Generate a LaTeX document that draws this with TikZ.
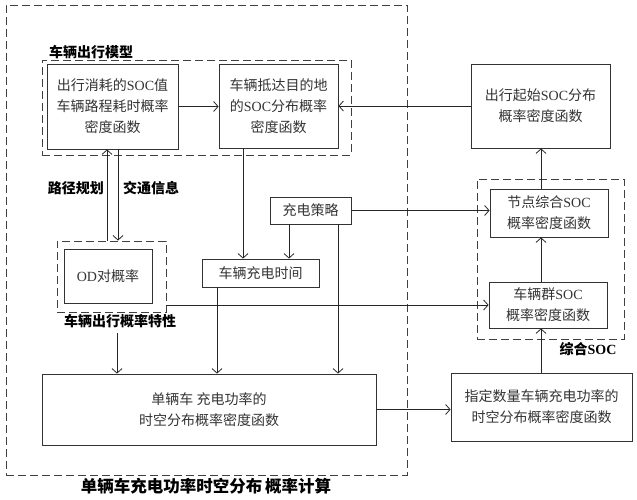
\documentclass[tikz,border=0pt]{standalone}
\usepackage{fontspec}
\usetikzlibrary{arrows.meta}
\newfontfamily\cjk{Noto Sans CJK SC}
\newfontfamily\lat{Liberation Serif}
\newcommand\en[1]{{\lat #1}}
\tikzset{
  blk/.style={draw=black!80, line width=0.8pt, align=center, inner sep=0pt,
    text=black!80, font=\fontsize{14}{21}\selectfont\cjk},
  grp/.style={draw=black!75, line width=0.9pt, dash pattern=on 8pt off 4pt, inner sep=0pt},
  lbl/.style={inner sep=0pt, font=\fontsize{14}{16}\selectfont\cjk\bfseries},
  arr/.style={-{Straight Barb[length=4.5pt,width=10pt]}, line width=0.8pt, draw=black!85},
  ln/.style={line width=0.8pt, draw=black!85}
}
\begin{document}
\begin{tikzpicture}[x=1pt,y=-1pt]
\useasboundingbox (0,0) rectangle (637,500);

% dashed groups
\node[grp, minimum width=401, minimum height=470] (outer) at (206.5,240) {};
\node[grp, minimum width=309, minimum height=95] (model) at (196.5,107.5) {};
\node[grp, minimum width=109, minimum height=71] (odgrp) at (111.5,276.5) {};
\node[grp, minimum width=147, minimum height=160] (socgrp) at (550.5,259) {};

% boxes
\node[blk, minimum width=131, minimum height=85] (A) at (112.5,106.5)
  {出行消耗的\en{SOC}值\\车辆路程耗时概率\\密度函数};
\node[blk, minimum width=119, minimum height=84] (B) at (278.5,106)
  {车辆抵达目的地\\的\en{SOC}分布概率\\密度函数};
\node[blk, minimum width=139, minimum height=84] (start) at (540.5,106)
  {出行起始\en{SOC}分布\\概率密度函数};
\node[blk, minimum width=118, minimum height=48] (nodesoc) at (549,213)
  {节点综合\en{SOC}\\概率密度函数};
\node[blk, minimum width=118, minimum height=46] (group) at (548,305)
  {车辆群\en{SOC}\\概率密度函数};
\node[blk, minimum width=181, minimum height=68] (spec) at (541.5,407)
  {指定数量车辆充电功率的\\时空分布概率密度函数};
\node[blk, minimum width=334, minimum height=71] (big) at (209,409.5)
  {单辆车 充电功率的\\时空分布概率密度函数};
\node[blk, minimum width=81, minimum height=27] (strategy) at (310.5,210.5) {充电策略};
\node[blk, minimum width=117, minimum height=28] (chtime) at (260.5,273) {车辆充电时间};
\node[blk, minimum width=88, minimum height=54] (od) at (108,276) {\en{OD}对概率};

% labels
\node[lbl, anchor=west] (modellbl) at (49,52) {车辆出行模型};
\node[lbl, anchor=east] (route) at (104,188) {路径规划};
\node[lbl, anchor=west] (traffic) at (123,188) {交通信息};
\node[lbl] (odlbl) at (120,321) {车辆出行概率特性};
\node[lbl] (soclbl) at (588,349) {综合\en{\bfseries SOC}};
\node[lbl, font=\fontsize{16.5}{18}\selectfont\cjk\bfseries] (title) at (206,486)
  {单辆车充电功率时空分布\,概率计算};

% x positions of vertical connectors
\coordinate (xl) at (107,0);
\coordinate (xr) at (118,0);
\coordinate (xo) at (117,0);
\coordinate (xb) at (243,0);
\coordinate (xs) at (289,0);
\coordinate (xt) at (217,0);
\coordinate (xp) at (338,0);
\coordinate (xsoc) at (541,0);

% connectors
\draw[arr] (A.east) -- (A.east -| B.west);
\draw[arr] (start.west) -- (start.west -| B.east);
\draw[arr] (odgrp.north -| xl) -- (A.south -| xl);
\draw[arr] (A.south -| xr) -- (odgrp.north -| xr);
\draw[arr] (B.south -| xb) -- (chtime.north -| xb);
\draw[arr] (strategy.south -| xs) -- (chtime.north -| xs);
\draw[arr] (strategy.east) -- (strategy.east -| nodesoc.west);
\draw[arr] (group.west -| odgrp.east) -- (group.west);
\draw[arr] ([yshift=-5pt]odlbl.south -| xo) -- (big.north -| xo);
\draw[arr] (chtime.south -| xt) -- (big.north -| xt);
\draw[arr] (strategy.south -| xp) -- (big.north -| xp);
\draw[arr] (big.east) -- (big.east -| spec.west);
\draw[arr] (spec.north -| xsoc) -- (group.south -| xsoc);
\draw[arr] (group.north -| xsoc) -- (nodesoc.south -| xsoc);
\draw[arr] (nodesoc.north -| xsoc) -- (start.south -| xsoc);
\end{tikzpicture}
\end{document}
